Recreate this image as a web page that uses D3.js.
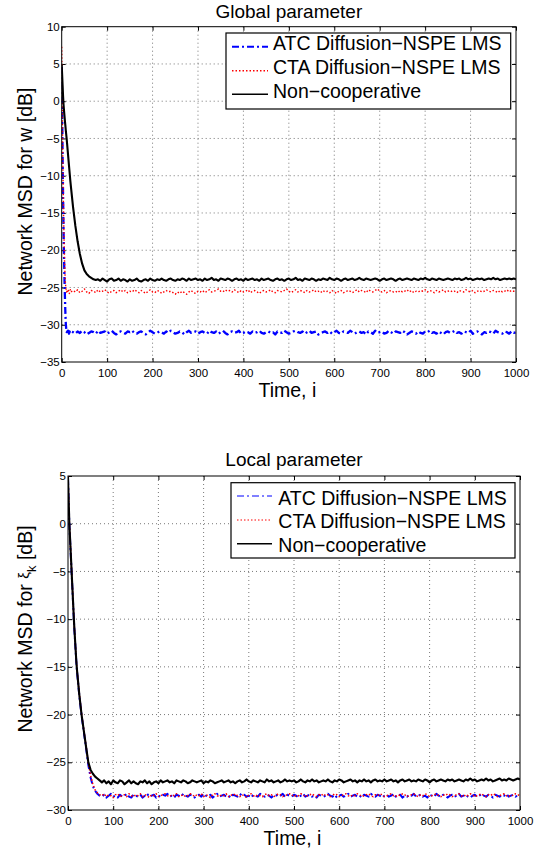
<!DOCTYPE html>
<html>
<head>
<meta charset="utf-8">
<script src="https://cdn.jsdelivr.net/npm/d3@7"></script>
<style>
  html, body { margin: 0; padding: 0; background: #fff; }
  svg { display: block; font-family: "Liberation Sans", Arial, Helvetica, sans-serif; }
</style>
</head>
<body>
<svg id="svg"></svg>
<script>
'use strict';

// sample times: every iteration up to 20, then every 5th iteration
const iters = d3.range(0, 21).concat(d3.range(25, 1001, 5));

const seriesNames = ["ATC Diffusion\u2212NSPE LMS", "CTA Diffusion\u2212NSPE LMS", "Non\u2212cooperative"];
const xTicks = [0, 100, 200, 300, 400, 500, 600, 700, 800, 900, 1000];
const globalYTicks = [-35, -30, -25, -20, -15, -10, -5, 0, 5, 10];
const localYTicks = [-30, -25, -20, -15, -10, -5, 0, 5];

// ---- Global parameter (MSD in dB) ----
const globalAtc = [
  4.6,-1.5,-7.5,-12.5,-17.0,-20.5,-23.5,-26.0,-28.2,-29.8,-30.6,-31.0,-30.9,-31.1,-30.8,-31.0,-31.2,-30.9,-31.0,-31.1,-30.9,
  -31.0,-31.2,-30.9,-31.1,-30.8,-31.0,-31.3,-31.1,-30.9,-31.0,-31.2,-30.8,-31.1,-31.0,
  -30.9,-31.2,-31.0,-30.8,-31.1,-31.3,-31.0,-30.9,-31.1,-31.2,-30.9,-31.0,-30.8,-31.1,
  -31.2,-31.0,-30.9,-31.1,-31.3,-31.0,-30.8,-31.0,-31.2,-31.1,-30.9,-31.0,-31.2,-30.9,
  -31.1,-30.8,-31.0,-31.2,-31.1,-30.9,-31.0,-31.3,-31.0,-30.8,-31.1,-31.0,-30.9,-31.2,
  -31.0,-30.9,-31.1,-31.2,-30.8,-31.0,-31.1,-30.9,-31.2,-31.0,-30.8,-31.1,-31.3,-31.0,
  -30.9,-31.1,-31.0,-30.8,-31.2,-31.1,-30.9,-31.0,-31.2,-30.9,-31.1,-31.0,-30.8,-31.1,
  -31.2,-31.0,-30.9,-31.1,-31.0,-31.3,-30.9,-31.0,-31.1,-30.8,-31.0,-31.2,-31.1,-30.9,
  -30.8,-31.0,-31.1,-30.9,-31.2,-31.0,-30.8,-31.1,-31.0,-30.9,-31.3,-31.1,-31.0,-30.9,
  -31.1,-30.9,-31.2,-31.0,-30.8,-31.1,-31.2,-30.9,-31.0,-31.1,-30.8,-31.0,-31.2,-31.0,
  -30.9,-31.1,-31.0,-31.3,-30.9,-31.0,-31.2,-30.8,-31.1,-31.0,-30.9,-31.2,-31.1,-30.8,
  -31.0,-31.2,-30.9,-31.0,-31.1,-30.8,-31.0,-31.3,-31.1,-30.9,-31.0,-31.2,-30.9,-31.1,
  -31.2,-30.9,-31.0,-30.8,-31.1,-31.0,-31.2,-30.9,-31.1,-31.3,-31.0,-30.9,-31.1,-31.0,
  -30.8,-31.1,-31.0,-31.2,-30.9,-31.0,-31.1,-30.8,-31.2,-31.0,-30.9,-31.1,-31.3,-31.0,
  -31.1,-30.9,-31.0,-31.2,-30.8,-31.0,-31.1,-31.2,-30.9,-31.0,-31.2,-30.9,-31.1,-31.0
];
const globalCta = [
  7.3,0.5,-5.5,-10.5,-14.5,-18.0,-20.8,-22.8,-24.2,-25.0,-25.4,-25.6,-25.3,-25.7,-25.5,-25.4,-25.6,-25.8,-25.5,-25.3,-25.6,
  -25.4,-25.6,-25.3,-25.7,-25.5,-25.2,-25.6,-25.8,-25.4,-25.5,-25.7,-25.3,-25.6,-25.5,
  -25.3,-25.6,-25.8,-25.5,-25.4,-25.7,-25.5,-25.3,-25.6,-25.4,-25.7,-25.5,-25.6,-25.3,
  -25.5,-25.7,-25.4,-25.6,-25.8,-25.5,-25.3,-25.6,-25.7,-25.4,-25.5,-25.8,-25.6,-25.4,
  -25.6,-25.5,-25.7,-25.9,-25.6,-25.8,-25.5,-25.7,-25.9,-25.6,-25.4,-25.7,-25.8,-25.5,
  -25.6,-25.4,-25.7,-25.5,-25.3,-25.6,-25.5,-25.4,-25.2,-25.5,-25.6,-25.3,-25.5,-25.4,
  -25.6,-25.3,-25.5,-25.7,-25.4,-25.6,-25.5,-25.3,-25.7,-25.5,-25.4,-25.6,-25.8,-25.5,
  -25.4,-25.6,-25.5,-25.3,-25.6,-25.7,-25.4,-25.5,-25.6,-25.4,-25.2,-25.5,-25.7,-25.5,
  -25.3,-25.6,-25.4,-25.5,-25.7,-25.4,-25.6,-25.5,-25.3,-25.6,-25.5,-25.7,-25.4,-25.6,
  -25.5,-25.7,-25.4,-25.6,-25.8,-25.5,-25.4,-25.7,-25.6,-25.4,-25.5,-25.7,-25.5,-25.3,
  -25.6,-25.4,-25.5,-25.7,-25.3,-25.5,-25.6,-25.4,-25.2,-25.5,-25.6,-25.4,-25.7,-25.5,
  -25.4,-25.6,-25.5,-25.7,-25.4,-25.6,-25.5,-25.3,-25.6,-25.4,-25.7,-25.5,-25.6,-25.4,
  -25.5,-25.3,-25.6,-25.4,-25.5,-25.7,-25.4,-25.6,-25.5,-25.3,-25.6,-25.5,-25.4,-25.6,
  -25.5,-25.7,-25.4,-25.5,-25.6,-25.3,-25.5,-25.6,-25.4,-25.7,-25.5,-25.4,-25.6,-25.5,
  -25.3,-25.5,-25.6,-25.4,-25.5,-25.7,-25.4,-25.6,-25.5,-25.3,-25.6,-25.4,-25.5,-25.5
];
const globalNonCoop = [
  4.9,3.5,2.1,0.7,-0.4,-1.2,-1.9,-2.6,-3.2,-3.9,-4.5,-5.1,-5.8,-6.5,-7.2,-7.9,-8.6,-9.3,-10.0,-10.7,-11.3,
  -14.2,-16.7,-18.8,-20.5,-21.8,-22.7,-23.2,-23.5,-23.7,-23.9,-24.0,
  -23.9,-24.1,-23.8,-24.0,-24.2,-23.9,-23.8,-24.1,-24.0,-23.8,-24.1,-23.9,-24.0,-24.2,
  -23.9,-24.1,-24.0,-23.8,-24.1,-24.2,-24.0,-23.9,-24.1,-23.8,-24.0,-24.1,-23.9,-24.0,
  -23.8,-24.0,-24.1,-23.9,-23.8,-24.0,-24.1,-23.9,-24.0,-23.8,-23.9,-24.1,-23.8,-24.0,
  -23.9,-23.8,-24.0,-23.9,-24.1,-23.8,-24.0,-23.9,-23.7,-24.0,-23.9,-24.1,-23.8,-23.9,
  -24.0,-23.8,-23.9,-24.1,-23.9,-23.8,-24.0,-23.9,-24.1,-23.8,-24.0,-23.9,-23.8,-24.0,
  -23.9,-24.1,-23.8,-24.0,-23.9,-23.8,-24.0,-24.1,-23.9,-23.8,-24.0,-23.9,-24.1,-23.9,
  -23.8,-24.0,-23.9,-23.7,-24.0,-23.9,-24.1,-23.8,-23.9,-24.0,-23.8,-23.9,-24.1,-23.9,
  -24.0,-23.8,-23.9,-24.0,-23.7,-23.9,-24.0,-23.8,-23.9,-24.1,-23.9,-23.8,-24.0,-23.9,
  -23.8,-24.0,-23.9,-23.7,-23.9,-24.0,-23.8,-23.9,-24.0,-23.9,-23.8,-23.9,-24.1,-23.9,
  -23.8,-24.0,-23.9,-23.8,-23.9,-24.1,-23.9,-23.8,-24.0,-23.9,-23.8,-23.9,-24.0,-23.8,
  -23.9,-24.0,-23.8,-23.9,-23.7,-23.9,-24.0,-23.8,-23.9,-24.0,-23.8,-23.9,-24.0,-23.9,
  -23.8,-23.9,-24.0,-23.8,-23.9,-23.8,-24.0,-23.9,-23.7,-23.9,-23.8,-24.0,-23.9,-23.8,
  -23.9,-23.8,-24.0,-23.9,-23.8,-23.9,-23.7,-23.9,-23.8,-24.0,-23.9,-23.8,-23.9,-23.8,
  -23.9,-23.8,-23.9
];

// ---- Local parameter (MSD in dB) ----
const localAtc = [
  4.8,3.1,1.5,-0.1,-1.1,-2.1,-3.1,-4.1,-5.1,-6.1,-7.1,-8.1,-9.1,-10.1,-11.0,-11.8,-12.6,-13.4,-14.2,-14.9,-15.5,
  -18.0,-20.1,-21.8,-23.5,-25.3,-26.6,-27.5,-28.0,-28.3,-28.5,
  -28.6,-28.4,-28.7,-28.5,-28.3,-28.6,-28.5,-28.7,-28.4,-28.6,-28.5,-28.3,-28.6,-28.7,
  -28.4,-28.5,-28.6,-28.4,-28.7,-28.5,-28.3,-28.6,-28.5,-28.4,-28.7,-28.5,-28.6,-28.4,
  -28.5,-28.3,-28.6,-28.5,-28.7,-28.4,-28.5,-28.6,-28.3,-28.5,-28.6,-28.4,-28.5,-28.7,
  -28.5,-28.4,-28.6,-28.3,-28.5,-28.6,-28.4,-28.7,-28.5,-28.3,-28.6,-28.5,-28.4,-28.6,
  -28.5,-28.7,-28.4,-28.5,-28.6,-28.3,-28.5,-28.4,-28.6,-28.5,-28.7,-28.4,-28.5,-28.6,
  -28.3,-28.5,-28.6,-28.4,-28.5,-28.7,-28.5,-28.4,-28.6,-28.5,-28.3,-28.6,-28.4,-28.5,
  -28.6,-28.4,-28.5,-28.7,-28.5,-28.3,-28.6,-28.5,-28.4,-28.6,-28.5,-28.7,-28.4,-28.5,
  -28.6,-28.5,-28.3,-28.5,-28.6,-28.4,-28.7,-28.5,-28.4,-28.6,-28.5,-28.3,-28.6,-28.5,
  -28.4,-28.6,-28.5,-28.7,-28.4,-28.5,-28.6,-28.3,-28.5,-28.6,-28.4,-28.5,-28.7,-28.5,
  -28.4,-28.6,-28.5,-28.3,-28.6,-28.5,-28.4,-28.7,-28.5,-28.6,-28.4,-28.5,-28.3,-28.6,
  -28.5,-28.4,-28.6,-28.5,-28.7,-28.4,-28.5,-28.6,-28.3,-28.5,-28.6,-28.4,-28.5,-28.7,
  -28.5,-28.4,-28.6,-28.5,-28.3,-28.6,-28.5,-28.4,-28.6,-28.7,-28.5,-28.4,-28.6,-28.5,
  -28.3,-28.5,-28.6,-28.4,-28.5,-28.7,-28.4,-28.5,-28.6,-28.4,-28.5,-28.3,-28.6,-28.5,
  -28.4,-28.6,-28.5,-28.4
];
const localCta = [
  5.0,3.3,1.7,0.1,-0.9,-1.9,-2.9,-3.9,-4.9,-5.9,-6.9,-7.9,-8.9,-9.9,-10.8,-11.6,-12.4,-13.2,-14.0,-14.7,-15.3,
  -17.8,-19.9,-21.6,-23.3,-25.1,-26.4,-27.3,-27.9,-28.2,-28.4,
  -28.5,-28.3,-28.6,-28.4,-28.5,-28.7,-28.4,-28.3,-28.6,-28.5,-28.4,-28.6,-28.3,-28.5,
  -28.6,-28.4,-28.5,-28.3,-28.6,-28.4,-28.5,-28.7,-28.4,-28.5,-28.3,-28.6,-28.5,-28.4,
  -28.3,-28.5,-28.6,-28.4,-28.5,-28.3,-28.6,-28.5,-28.4,-28.6,-28.5,-28.3,-28.4,-28.6,
  -28.4,-28.5,-28.3,-28.6,-28.4,-28.5,-28.7,-28.4,-28.3,-28.5,-28.6,-28.4,-28.5,-28.3,
  -28.6,-28.4,-28.5,-28.3,-28.5,-28.6,-28.4,-28.5,-28.7,-28.4,-28.3,-28.5,-28.6,-28.4,
  -28.5,-28.6,-28.4,-28.3,-28.5,-28.4,-28.6,-28.5,-28.3,-28.4,-28.6,-28.5,-28.4,-28.3,
  -28.5,-28.4,-28.6,-28.5,-28.3,-28.4,-28.6,-28.5,-28.4,-28.3,-28.5,-28.6,-28.4,-28.5,
  -28.3,-28.5,-28.4,-28.6,-28.5,-28.3,-28.4,-28.6,-28.5,-28.4,-28.3,-28.5,-28.6,-28.4,
  -28.5,-28.3,-28.4,-28.6,-28.5,-28.4,-28.3,-28.5,-28.6,-28.4,-28.5,-28.3,-28.4,-28.6,
  -28.5,-28.4,-28.3,-28.5,-28.6,-28.4,-28.5,-28.3,-28.4,-28.6,-28.5,-28.4,-28.3,-28.5,
  -28.6,-28.4,-28.5,-28.3,-28.4,-28.6,-28.5,-28.4,-28.3,-28.5,-28.6,-28.4,-28.5,-28.3,
  -28.4,-28.6,-28.5,-28.4,-28.3,-28.5,-28.6,-28.4,-28.5,-28.3,-28.4,-28.6,-28.5,-28.4,
  -28.3,-28.5,-28.6,-28.4,-28.5,-28.3,-28.4,-28.6,-28.5,-28.4,-28.3,-28.5,-28.6,-28.4,
  -28.5,-28.3,-28.4,-28.5
];
const localNonCoop = [
  4.9,3.2,1.6,0.0,-1.0,-2.0,-3.0,-4.0,-5.0,-6.0,-7.0,-8.0,-9.0,-10.0,-10.9,-11.7,-12.5,-13.3,-14.1,-14.8,-15.4,
  -17.9,-20.0,-21.7,-23.4,-25.0,-25.8,-26.2,-26.5,-26.7,-26.9,
  -27.1,-26.9,-27.2,-27.0,-27.3,-26.9,-27.1,-27.2,-26.9,-27.0,-27.3,-27.1,-26.9,-27.2,
  -27.0,-27.2,-27.3,-27.0,-27.1,-26.9,-27.2,-27.0,-27.3,-27.1,-27.0,-27.2,-26.9,-27.1,
  -27.0,-26.9,-27.1,-27.0,-27.2,-26.9,-27.0,-27.1,-26.9,-27.0,-27.2,-27.1,-26.9,-27.0,
  -27.1,-27.0,-26.9,-27.2,-27.0,-27.1,-26.9,-27.0,-27.2,-27.1,-27.0,-26.9,-27.1,-27.0,
  -26.9,-27.1,-27.0,-27.2,-27.0,-26.9,-27.1,-27.0,-26.8,-27.0,-27.1,-26.9,-27.0,-27.1,
  -26.9,-27.0,-27.1,-26.8,-27.0,-26.9,-27.1,-27.0,-26.9,-27.1,-27.0,-26.8,-27.0,-26.9,
  -27.0,-26.9,-27.1,-27.0,-26.8,-27.0,-27.1,-26.9,-27.0,-26.8,-27.0,-26.9,-27.1,-27.0,
  -26.9,-27.0,-26.8,-27.0,-27.1,-26.9,-27.0,-26.8,-26.9,-27.1,-27.0,-26.9,-26.8,-27.0,
  -26.9,-27.1,-26.9,-27.0,-26.8,-27.0,-26.9,-27.1,-26.9,-26.8,-27.0,-26.9,-27.0,-26.8,
  -27.0,-26.9,-26.8,-27.0,-26.9,-27.1,-26.9,-26.8,-27.0,-26.9,-26.8,-27.0,-26.9,-27.0,
  -26.8,-26.9,-27.0,-26.8,-26.9,-27.1,-26.9,-26.8,-27.0,-26.9,-26.8,-26.9,-27.0,-26.8,
  -26.9,-26.8,-27.0,-26.9,-26.8,-26.9,-27.0,-26.8,-26.9,-26.7,-26.9,-26.8,-27.0,-26.9,
  -26.8,-26.9,-26.7,-26.9,-26.8,-27.0,-26.9,-26.8,-26.7,-26.9,-26.8,-26.9,-26.7,-26.8,
  -26.9,-26.8,-26.7,-26.8
];

const width = 541;
const height = 849;

const svg = d3.select("#svg")
    .attr("width", width)
    .attr("height", height);

const panels = [
  {
    title: "Global parameter", titleY: 18,
    series: [globalAtc, globalCta, globalNonCoop],
    yDomain: [-35, 10], yTicks: globalYTicks,
    left: 61.7, right: 516, top: 26.7, bottom: 362,
    ylabelY: 191.5,
    lineW: [2.3, 1.4, 2.1],
    legend: {x0: 226, x1: 510.7, y0: 33, y1: 109, lineX0: 232, lineX1: 268, textX: 273,
             rows: [46.7, 70.7, 94.3], base: [50, 74, 98.3], lineW: [2, 1.5, 1.6]}
  },
  {
    title: "Local parameter", titleY: 465.5,
    series: [localAtc, localCta, localNonCoop],
    yDomain: [-30, 5], yTicks: localYTicks,
    left: 68, right: 520, top: 476, bottom: 810,
    ylabelY: 629,
    lineW: [2, 1.5, 2.1],
    legend: {x0: 231, x1: 515, y0: 482.7, y1: 558, lineX0: 237, lineX1: 272, textX: 278.3,
             rows: [496, 520, 543.7], base: [505, 528.3, 552.3], lineW: [1, 1, 1.6]}
  }
];

const colors = ["#0000ff", "#ff0000", "#000000"];
const dashes = ["7,3,2,3", "1.5,2", null];

function drawPanel(p, idx) {
  const x = d3.scaleLinear().domain([0, 1000]).range([p.left, p.right]);
  const y = d3.scaleLinear().domain(p.yDomain).range([p.bottom, p.top]);

  const g = svg.append("g");

  // dotted grid
  g.append("g")
    .selectAll("line")
    .data(xTicks.slice(1, -1))
    .join("line")
      .attr("x1", d => x(d)).attr("x2", d => x(d))
      .attr("y1", p.top).attr("y2", p.bottom)
      .attr("stroke", "#555").attr("stroke-width", 0.8)
      .attr("stroke-dasharray", "1,3");
  g.append("g")
    .selectAll("line")
    .data(p.yTicks.slice(1, -1))
    .join("line")
      .attr("x1", p.left).attr("x2", p.right)
      .attr("y1", d => y(d)).attr("y2", d => y(d))
      .attr("stroke", "#555").attr("stroke-width", 0.8)
      .attr("stroke-dasharray", "1,3");

  // ticks inside on all four sides
  const fmt = d3.format("d");
  g.append("g")
      .attr("transform", `translate(0,${p.bottom})`)
      .call(d3.axisBottom(x).tickValues(xTicks).tickFormat(fmt).tickSizeInner(-4).tickSizeOuter(0).tickPadding(7))
      .call(a => a.select(".domain").remove())
      .call(a => a.selectAll("text").attr("font-size", 11.5).attr("fill", "#000"));
  g.append("g")
      .attr("transform", `translate(0,${p.top})`)
      .call(d3.axisTop(x).tickValues(xTicks).tickFormat("").tickSizeInner(-4).tickSizeOuter(0))
      .call(a => a.select(".domain").remove());
  g.append("g")
      .attr("transform", `translate(${p.left},0)`)
      .call(d3.axisLeft(y).tickValues(p.yTicks).tickFormat(fmt).tickSizeInner(-4).tickSizeOuter(0).tickPadding(2))
      .call(a => a.select(".domain").remove())
      .call(a => a.selectAll("text").attr("font-size", 11.5).attr("fill", "#000"));
  g.append("g")
      .attr("transform", `translate(${p.right},0)`)
      .call(d3.axisRight(y).tickValues(p.yTicks).tickFormat("").tickSizeInner(-4).tickSizeOuter(0))
      .call(a => a.select(".domain").remove());
  g.selectAll(".tick line").attr("stroke", "#000");
  g.selectAll("g").attr("font-family", null);

  // curves
  const clipId = "clip" + idx;
  svg.append("clipPath").attr("id", clipId)
    .append("rect")
      .attr("x", p.left).attr("y", p.top)
      .attr("width", p.right - p.left).attr("height", p.bottom - p.top);

  const line = d3.line()
      .x((d, i) => x(iters[i]))
      .y(d => y(d));

  g.append("g")
      .attr("clip-path", `url(#${clipId})`)
    .selectAll("path")
    .data(p.series)
    .join("path")
      .attr("fill", "none")
      .attr("stroke", (d, i) => colors[i])
      .attr("stroke-width", (d, i) => p.lineW[i])
      .attr("stroke-dasharray", (d, i) => dashes[i])
      .attr("stroke-linejoin", "round")
      .attr("d", d => line(d.slice(0, iters.length)));

  // frame
  g.append("rect")
      .attr("x", p.left).attr("y", p.top)
      .attr("width", p.right - p.left).attr("height", p.bottom - p.top)
      .attr("fill", "none").attr("stroke", "#000").attr("stroke-width", 1);

  // title and labels
  const cx = (p.left + p.right) / 2;
  g.append("text")
      .attr("x", cx).attr("y", p.titleY)
      .attr("text-anchor", "middle").attr("font-size", 19)
      .text(p.title);
  g.append("text")
      .attr("x", cx - 1.5).attr("y", p.bottom + 35)
      .attr("text-anchor", "middle").attr("font-size", 19.5)
      .text("Time, i");

  const yl = g.append("text")
      .attr("transform", `translate(31.5,${p.ylabelY}) rotate(-90)`)
      .attr("text-anchor", "middle").attr("font-size", 19.5);
  if (idx === 0) {
    yl.text("Network MSD for w [dB]");
  } else {
    yl.append("tspan").text("Network MSD for ");
    yl.append("tspan").attr("font-size", 15).attr("dy", -3).text("\u03BE");
    yl.append("tspan").attr("font-size", 13).attr("dy", 7).text("k");
    yl.append("tspan").attr("dy", -4).text(" [dB]");
  }

  // legend
  const L = p.legend;
  const lg = g.append("g");
  lg.append("rect")
      .attr("x", L.x0).attr("y", L.y0)
      .attr("width", L.x1 - L.x0).attr("height", L.y1 - L.y0)
      .attr("fill", "#fff").attr("stroke", "#000").attr("stroke-width", 1.2);
  lg.selectAll("line")
    .data(seriesNames)
    .join("line")
      .attr("x1", L.lineX0).attr("x2", L.lineX1)
      .attr("y1", (d, i) => L.rows[i]).attr("y2", (d, i) => L.rows[i])
      .attr("stroke", (d, i) => colors[i])
      .attr("stroke-width", (d, i) => L.lineW[i])
      .attr("stroke-dasharray", (d, i) => dashes[i]);
  lg.selectAll("text")
    .data(seriesNames)
    .join("text")
      .attr("x", L.textX).attr("y", (d, i) => L.base[i])
      .attr("font-size", 19.5)
      .text(d => d);
}

panels.forEach(drawPanel);
</script>
</body>
</html>
